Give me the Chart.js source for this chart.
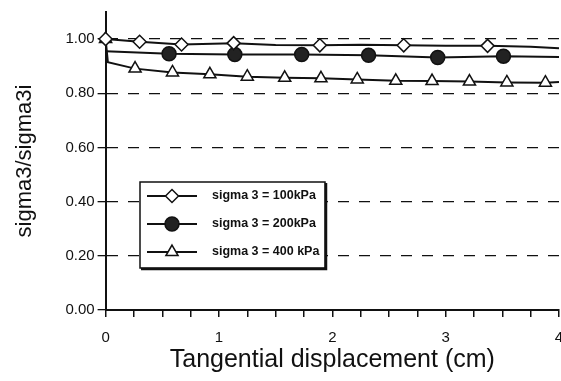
<!DOCTYPE html>
<html>
<head>
<meta charset="utf-8">
<script src="https://cdn.jsdelivr.net/npm/chart.js@4/dist/chart.umd.min.js"></script>
<style>
  body { margin: 0; background: #fff; }
  #wrap { width: 561px; height: 381px; }
</style>
</head>
<body>
<div id="wrap"><canvas id="shearChart" width="561" height="381"></canvas></div>
<script>
// values
const seriesNames = ["sigma 3 = 100kPa", "sigma 3 = 200kPa", "sigma 3 = 400 kPa"];

const x100 = [0, 0.30, 0.67, 1.13, 1.50, 1.89, 2.25, 2.63, 3.00, 3.37, 3.75, 4.0];
const y100 = [1.00, 0.99, 0.98, 0.985, 0.978, 0.977, 0.979, 0.977, 0.975, 0.975, 0.972, 0.966];
const m100 = [1, 1, 1, 1, 0, 1, 0, 1, 0, 1, 0, 0];

const x200 = [0, 0.56, 1.14, 1.73, 2.32, 2.93, 3.51, 4.0];
const y200 = [0.955, 0.946, 0.943, 0.943, 0.94, 0.932, 0.937, 0.934];
const m200 = [0, 1, 1, 1, 1, 1, 1, 0];

const x400 = [0, 0.02, 0.26, 0.59, 0.92, 1.25, 1.58, 1.90, 2.22, 2.56, 2.88, 3.21, 3.54, 3.88, 4.0];
const y400 = [1.00, 0.915, 0.891, 0.877, 0.87, 0.861, 0.857, 0.855, 0.851, 0.846, 0.845, 0.843, 0.84, 0.839, 0.842];
const m400 = [1, 0, 1, 1, 1, 1, 1, 1, 1, 1, 1, 1, 1, 1, 0];

const yTicks = [0, 0.2, 0.4, 0.6, 0.8, 1.0];

function toPoints(xs, ys) {
    return xs.map((x, i) => ({ x: x, y: ys[i] }));
}

const styles = [
    { pointStyle: "rectRot", fill: "#fff", radius: 6.5, marks: m100 },
    { pointStyle: "circle", fill: "#222", radius: 7, marks: m200 },
    { pointStyle: "triangle", fill: "#fff", radius: 7, marks: m400 }
];

const datasets = [toPoints(x100, y100), toPoints(x200, y200), toPoints(x400, y400)].map((pts, k) => ({
    label: seriesNames[k],
    data: pts,
    borderColor: "#111",
    borderWidth: 2,
    pointStyle: styles[k].pointStyle,
    pointBackgroundColor: styles[k].fill,
    pointBorderColor: "#111",
    pointBorderWidth: 1.5,
    pointRadius: styles[k].marks.map(m => m ? styles[k].radius : 0),
    pointHoverRadius: 0,
    tension: 0,
    clip: false
}));

// legend box drawn inside the plot like the original
const boxLegend = {
    id: "boxLegend",
    afterDraw(chart) {
        const ctx = chart.ctx;
        const left = 140, top = 182, w = 185, h = 86;
        ctx.save();
        ctx.fillStyle = "#fff";
        ctx.fillRect(left, top, w, h);
        ctx.strokeStyle = "#111";
        ctx.lineWidth = 1.5;
        ctx.strokeRect(left, top, w, h);
        ctx.lineWidth = 2.5;
        ctx.beginPath();
        ctx.moveTo(left + 1, top + h + 1);
        ctx.lineTo(left + w + 1, top + h + 1);
        ctx.lineTo(left + w + 1, top + 1);
        ctx.stroke();

        seriesNames.forEach((name, k) => {
            const y = top + 14 + k * 28;
            ctx.strokeStyle = "#111";
            ctx.lineWidth = 2;
            ctx.beginPath();
            ctx.moveTo(left + 7, y);
            ctx.lineTo(left + 57, y);
            ctx.stroke();
            ctx.fillStyle = styles[k].fill;
            ctx.lineWidth = 1.5;
            Chart.helpers.drawPoint(ctx, {
                pointStyle: styles[k].pointStyle,
                radius: styles[k].radius,
                rotation: 0,
                borderWidth: 1.5
            }, left + 32, y);
            ctx.fillStyle = "#111";
            ctx.font = "bold 12.5px 'Liberation Sans', Arial, sans-serif";
            ctx.textBaseline = "middle";
            ctx.textAlign = "left";
            ctx.fillText(name, left + 72, y);
        });
        ctx.restore();
    }
};

const ctx = document.getElementById("shearChart").getContext("2d");

new Chart(ctx, {
    type: "line",
    data: { datasets: datasets },
    options: {
        responsive: false,
        animation: false,
        layout: { autoPadding: false, padding: { top: 10, right: 2, left: 12, bottom: 6 } },
        plugins: {
            legend: { display: false },
            tooltip: { enabled: false }
        },
        scales: {
            x: {
                type: "linear",
                min: 0,
                max: 4,
                afterFit: scale => {
                    scale.paddingRight = 0;
                },
                ticks: {
                    stepSize: 0.25,
                    color: "#111",
                    font: { family: "'Liberation Sans', Arial, sans-serif", size: 15 },
                    maxRotation: 0,
                    autoSkip: false,
                    padding: 12,
                    callback: v => Number.isInteger(v) ? String(v) : ""
                },
                grid: {
                    drawOnChartArea: false,
                    drawTicks: true,
                    tickLength: 7,
                    color: "#111",
                    lineWidth: 1.5
                },
                border: { color: "#111", width: 2 },
                title: {
                    display: true,
                    text: "Tangential displacement (cm)",
                    color: "#111",
                    font: { family: "'Liberation Sans', Arial, sans-serif", size: 25 },
                    padding: { top: -14, bottom: 0 }
                }
            },
            y: {
                type: "linear",
                min: 0,
                max: 1.1,
                afterBuildTicks: scale => {
                    scale.ticks = yTicks.map(v => ({ value: v }));
                },
                ticks: {
                    color: "#111",
                    font: { family: "'Liberation Sans', Arial, sans-serif", size: 15 },
                    padding: 3,
                    callback: v => v.toFixed(2)
                },
                grid: {
                    color: "#111",
                    lineWidth: 1.3,
                    tickLength: 8,
                    tickColor: "#111",
                    tickBorderDash: []
                },
                border: { color: "#111", width: 2, dash: [11, 10] },
                title: {
                    display: true,
                    text: "sigma3/sigma3i",
                    color: "#111",
                    font: { family: "'Liberation Sans', Arial, sans-serif", size: 22 },
                    padding: { top: 0, bottom: 24 }
                }
            }
        }
    },
    plugins: [boxLegend]
});
</script>
</body>
</html>
